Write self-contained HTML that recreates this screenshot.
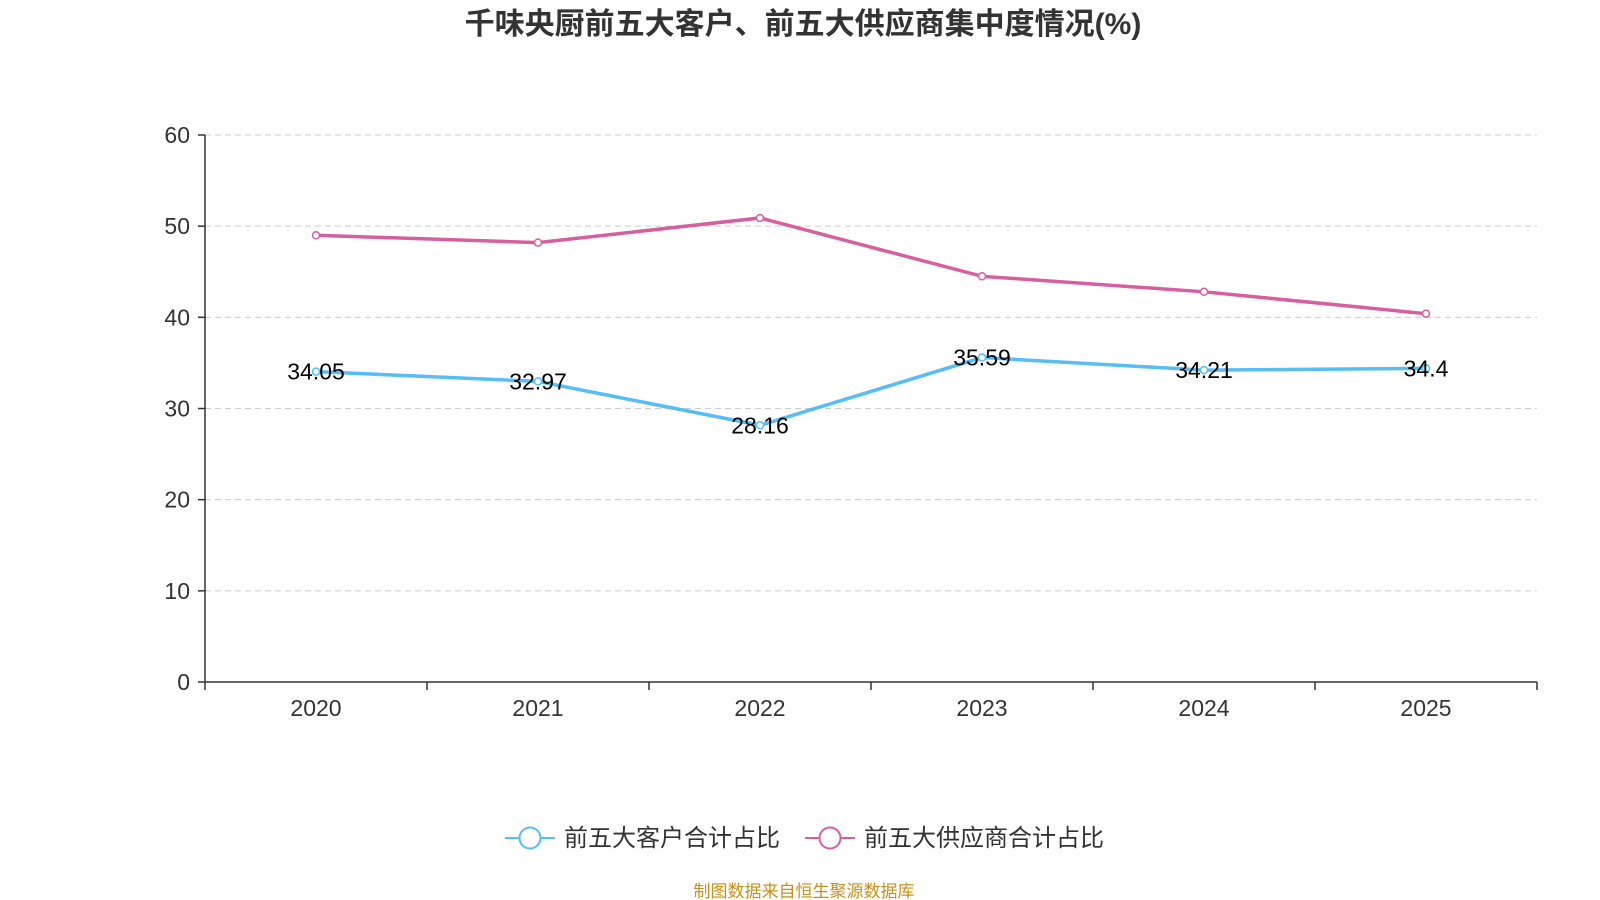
<!DOCTYPE html>
<html><head><meta charset="utf-8">
<style>
body{margin:0;background:#fff;}
svg{display:block;font-family:"Liberation Sans","Noto Sans CJK SC",sans-serif;}
</style></head>
<body>
<svg id="chart" width="1600" height="900">
<text x="803" y="34" text-anchor="middle" font-size="30" font-weight="bold" fill="#333">千味央厨前五大客户、前五大供应商集中度情况(%)</text>
<g id="grid"></g><g id="axes"></g><g id="series"></g>
<g>
<g>
<line x1="505" y1="838" x2="555" y2="838" stroke="#56bdf5" stroke-width="2"/>
<circle cx="530" cy="838" r="10.5" fill="#fff" stroke="#56bdf5" stroke-width="2"/>
<text x="564" y="846" font-size="24" fill="#333">前五大客户合计占比</text>
</g>
<g>
<line x1="805" y1="838" x2="855" y2="838" stroke="#d6609f" stroke-width="2"/>
<circle cx="830" cy="838" r="10.5" fill="#fff" stroke="#d6609f" stroke-width="2"/>
<text x="864" y="846" font-size="24" fill="#333">前五大供应商合计占比</text>
</g>
</g>
<text x="804" y="897" text-anchor="middle" font-size="17" fill="#c8901c">制图数据来自恒生聚源数据库</text>
</svg>
<script>
const categories=["2020","2021","2022","2023","2024","2025"];
const customerValues=[34.05,32.97,28.16,35.59,34.21,34.4];
const supplierValues=[49.0,48.2,50.9,44.5,42.8,40.4];
const yTicks=[0,10,20,30,40,50,60];
const NS="http://www.w3.org/2000/svg";
const x0=205,x1=1537,yTop=135,yBot=682,yMax=60;
const band=(x1-x0)/categories.length;
const xS=i=>x0+band*(i+0.5);
const yS=v=>yBot-(v/yMax)*(yBot-yTop);
function mk(tag,attrs,parent){const e=document.createElementNS(NS,tag);for(const k in attrs)e.setAttribute(k,attrs[k]);parent.appendChild(e);return e;}
const grid=document.getElementById('grid'),axes=document.getElementById('axes'),series=document.getElementById('series');
yTicks.forEach(t=>{
  const y=yS(t);
  if(t>0){const g=mk('line',{x1:x0,x2:x1,y1:y,y2:y,stroke:'#ccc','stroke-dasharray':'6,4'},grid);
  
  }
  mk('line',{x1:x0-7,x2:x0,y1:y,y2:y,stroke:'#333','stroke-width':1.5},axes);
  const tx=mk('text',{x:x0-15,y:y+8,'text-anchor':'end','font-size':23,fill:'#333'},axes);
  tx.textContent=t;
  
  
});
mk('line',{x1:x0,x2:x0,y1:yTop,y2:yBot,stroke:'#333','stroke-width':1.5},axes);
mk('line',{x1:x0,x2:x1,y1:yBot,y2:yBot,stroke:'#333','stroke-width':1.5},axes);
for(let i=0;i<=categories.length;i++){const x=x0+band*i;mk('line',{x1:x,x2:x,y1:yBot,y2:yBot+8,stroke:'#333','stroke-width':1.5},axes);}
categories.forEach((c,i)=>{
  const tx=mk('text',{x:xS(i),y:yBot+34,'text-anchor':'middle','font-size':23,fill:'#333'},axes);
  tx.textContent=c;
  
  
});
function drawSeries(vals,color,name,labels){
  const p=mk('polyline',{points:vals.map((v,i)=>xS(i)+','+yS(v)).join(' '),fill:'none',stroke:color,'stroke-width':3.5},series);
  
  
  vals.forEach((v,i)=>{
    const c=mk('circle',{cx:xS(i),cy:yS(v),r:3.5,fill:'#fff',stroke:color,'stroke-width':1.5},series);
    
    
    if(labels){const t=mk('text',{x:xS(i),y:yS(v)+8,'text-anchor':'middle','font-size':23,fill:'#000'},series);
    t.textContent=v;
    
    }
  });
}
drawSeries(supplierValues,'#d6609f','supplier',false);
drawSeries(customerValues,'#56bdf5','customer',true);
</script>
</body></html>
